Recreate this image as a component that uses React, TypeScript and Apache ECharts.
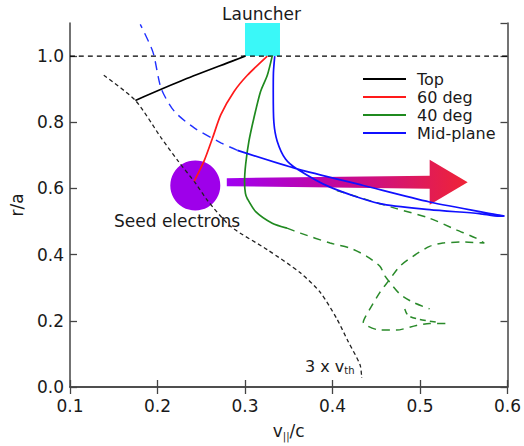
import React, { useEffect, useRef } from "react";
import * as echarts from "echarts";

// ---- data (x = v||/c, y = r/a) ----
const topLine = [[0.1747, 0.866], [0.2307, 0.929], [0.2875, 0.987], [0.3, 1.0]];
const deg60Line = [[0.3255, 1.0], [0.3027, 0.942], [0.2875, 0.893], [0.2724, 0.823], [0.263, 0.753], [0.2534, 0.684], [0.242, 0.622]];
const deg40Line = [[0.3311, 1.0], [0.3255, 0.942], [0.3178, 0.893], [0.3102, 0.813], [0.3045, 0.743], [0.3008, 0.674], [0.2995, 0.62], [0.3005, 0.585], [0.3027, 0.569], [0.3122, 0.53], [0.3311, 0.495], [0.348, 0.48]];
const midPlaneLine = [[0.334, 1.0], [0.3325, 0.95], [0.3323, 0.893], [0.333, 0.8], [0.3368, 0.743], [0.3463, 0.689], [0.3595, 0.659], [0.3973, 0.604], [0.4542, 0.554], [0.511, 0.536], [0.5678, 0.524], [0.5905, 0.516], [0.5962, 0.517], [0.5868, 0.521], [0.511, 0.559], [0.4352, 0.609], [0.3595, 0.659], [0.2914, 0.715]];
const midPlaneDashed = [[0.2914, 0.715], [0.2724, 0.738], [0.242, 0.783], [0.2193, 0.833], [0.2042, 0.902], [0.1948, 1.012], [0.1803, 1.096]];
const thermalLine = [[0.1386, 0.942], [0.1747, 0.866], [0.2042, 0.753], [0.2232, 0.684], [0.244, 0.614], [0.257, 0.564], [0.2837, 0.485], [0.3255, 0.415], [0.3633, 0.345], [0.386, 0.286], [0.405, 0.206], [0.418, 0.137], [0.4315, 0.067], [0.4334, 0.027]];
const edgeLine = [[0.1, 1.0], [0.6, 1.0]];
const green40DashedA = [[0.348, 0.48], [0.3633, 0.465], [0.3973, 0.435], [0.42, 0.42], [0.4391, 0.395], [0.4542, 0.365], [0.4599, 0.336], [0.4656, 0.316], [0.477, 0.281], [0.492, 0.256], [0.511, 0.236]];
const green40DashedB = [[0.405, 0.594], [0.4352, 0.569], [0.4732, 0.539], [0.511, 0.51], [0.5414, 0.475], [0.5641, 0.45], [0.5735, 0.435], [0.5489, 0.438], [0.5261, 0.435], [0.511, 0.425], [0.492, 0.395], [0.477, 0.365], [0.4656, 0.326], [0.4542, 0.286], [0.4428, 0.236], [0.4352, 0.196], [0.4542, 0.172], [0.4732, 0.172], [0.4959, 0.186], [0.511, 0.192], [0.5337, 0.192]];
const green40DashedC = [[0.4826, 0.236], [0.4864, 0.216], [0.4997, 0.204], [0.5186, 0.196]];
const seedCenter = [[0.2432, 0.609]];
const launcherBox = [[0.3, 1.0, 0.34, 1.1]];
const arrowSpan = [[0.2792, 0.619, 0.5545]];
const seedLabelPos = [[0.2224, 0.503]];
const vthLabelPos = [[0.368, 0.062]];
const xTickLabels = ["0.1", "0.2", "0.3", "0.4", "0.5", "0.6"];
const yTickLabels = ["0.0", "0.2", "0.4", "0.6", "0.8", "1.0"];
const legendNames = ["Top", "60 deg", "40 deg", "Mid-plane"];

const FONT = "DejaVu Sans";
const AXIS_COLOR = "#444";
const TEXT_COLOR = "#1a1a1a";

export default function App() {
  const ref = useRef<HTMLDivElement>(null);

  useEffect(() => {
    document.body.style.margin = "0";
    if (!ref.current) return;
    const chart = echarts.init(ref.current, undefined, { renderer: "svg" });

    const axisCommon = {
      type: "value" as const,
      axisLine: { show: true, lineStyle: { color: AXIS_COLOR, width: 1.5 } },
      axisTick: { show: true, inside: true, length: 7, lineStyle: { color: AXIS_COLOR, width: 1.3 } },
      splitLine: { show: false },
    };

    const lineSeries = (name: string, data: number[][], color: string, type: any = "solid", width = 1.6, z = 5) => ({
      name,
      type: "line",
      data,
      showSymbol: false,
      symbol: "none",
      smooth: 0.25,
      color,
      itemStyle: { color },
      lineStyle: { color, width, type },
      z,
      silent: true,
    });

    chart.setOption({
      animation: false,
      backgroundColor: "#fff",
      textStyle: { fontFamily: FONT },
      grid: { left: 68, right: 16, top: 23, bottom: 54, containLabel: false },
      legend: {
        data: legendNames,
        orient: "vertical",
        left: 358,
        top: 65,
        icon: "rect",
        itemWidth: 43,
        itemHeight: 2,
        itemGap: 0,
        textStyle: { fontSize: 16, lineHeight: 18, color: TEXT_COLOR, fontFamily: FONT, padding: [0, 0, 0, 6] },
        selectedMode: false,
      },
      graphic: [
        {
          type: "text",
          left: 222,
          top: 5,
          style: { text: "Launcher", fontSize: 17, fontFamily: FONT, fill: TEXT_COLOR },
        },
      ],
      xAxis: [
        {
          ...axisCommon,
          position: "bottom",
          min: 0.1,
          max: 0.6,
          interval: 0.1,
          axisLabel: {
            fontSize: 17,
            color: TEXT_COLOR,
            margin: 10,
            fontFamily: FONT,
            formatter: (v: number) => xTickLabels[Math.round((v - 0.1) / 0.1)] ?? "",
          },
          name: "v{sub|||}/c",
          nameLocation: "middle",
          nameGap: 34,
          nameTextStyle: {
            fontSize: 17,
            color: TEXT_COLOR,
            fontFamily: FONT,
            rich: { sub: { fontSize: 10, verticalAlign: "bottom", padding: [10, 0, 0, 0], color: TEXT_COLOR } },
          },
        },
        {
          ...axisCommon,
          position: "top",
          min: 0.1,
          max: 0.6,
          interval: 0.1,
          axisLabel: { show: false },
        },
      ],
      yAxis: [
        {
          ...axisCommon,
          position: "left",
          min: 0,
          max: 1.1,
          interval: 0.2,
          axisLabel: {
            fontSize: 17,
            color: TEXT_COLOR,
            margin: 6,
            fontFamily: FONT,
            showMaxLabel: false,
            formatter: (v: number) => (v > 1.05 ? "" : yTickLabels[Math.round(v / 0.2)] ?? ""),
          },
          name: "r/a",
          nameLocation: "middle",
          nameGap: 45,
          nameRotate: 90,
          nameTextStyle: { fontSize: 17, color: TEXT_COLOR, fontFamily: FONT },
        },
        {
          ...axisCommon,
          position: "right",
          min: 0,
          max: 1.1,
          interval: 0.2,
          axisLabel: { show: false },
        },
      ],
      series: [
        {
          name: "seed",
          type: "scatter",
          data: seedCenter,
          symbol: "circle",
          symbolSize: 50,
          itemStyle: { color: "#9e00ea", opacity: 1 },
          z: 1,
          silent: true,
        },
        {
          name: "launcher",
          type: "custom",
          data: launcherBox,
          z: 1,
          silent: true,
          renderItem: (_p: any, api: any) => {
            const a = api.coord([api.value(0), api.value(3)]);
            const b = api.coord([api.value(2), api.value(1)]);
            return {
              type: "rect",
              shape: { x: a[0], y: a[1], width: b[0] - a[0], height: b[1] - a[1] },
              style: { fill: "#3af8f8" },
            };
          },
        },
        lineSeries("edge", edgeLine, "#000", [5, 4], 1.3, 2),
        {
          name: "arrow",
          type: "custom",
          data: arrowSpan,
          z: 3,
          silent: true,
          renderItem: (_p: any, api: any) => {
            const s = api.coord([api.value(0), api.value(1)]);
            const t = api.coord([api.value(2), api.value(1)]);
            const headLen = 38;
            const headHalf = 22.5;
            const y = s[1];
            const bx = t[0] - headLen;
            return {
              type: "polygon",
              shape: {
                points: [
                  [s[0], y - 4],
                  [bx, y - 6.5],
                  [bx, y - headHalf],
                  [t[0], y],
                  [bx, y + headHalf],
                  [bx, y + 6.5],
                  [s[0], y + 4],
                ],
              },
              style: {
                fill: new echarts.graphic.LinearGradient(0, 0, 1, 0, [
                  { offset: 0, color: "#a000f2" },
                  { offset: 0.45, color: "#c2089c" },
                  { offset: 1, color: "#ef2436" },
                ]),
              },
            };
          },
        },
        lineSeries("vth", thermalLine, "#222", [4, 3], 1.3, 4),
        lineSeries("g40a", green40DashedA, "#2a8a2a", [8, 6], 1.5, 2),
        lineSeries("g40b", green40DashedB, "#2a8a2a", [8, 6], 1.5, 2),
        lineSeries("g40c", green40DashedC, "#2a8a2a", [6, 4], 1.5, 2),
        lineSeries("midDashed", midPlaneDashed, "#2030ff", [9, 6], 1.4, 4),
        lineSeries("Top", topLine, "#000", "solid", 1.7, 6),
        lineSeries("60 deg", deg60Line, "#ff1a1a", "solid", 1.7, 6),
        lineSeries("40 deg", deg40Line, "#1f8a1f", "solid", 1.7, 6),
        lineSeries("Mid-plane", midPlaneLine, "#1010ff", "solid", 1.7, 7),
        {
          name: "seedLabel",
          type: "scatter",
          data: seedLabelPos,
          symbolSize: 1,
          itemStyle: { color: "transparent" },
          z: 8,
          silent: true,
          label: {
            show: true,
            position: "inside",
            formatter: "Seed electrons",
            fontSize: 17,
            fontFamily: FONT,
            color: TEXT_COLOR,
            textBorderWidth: 0,
            opacity: 1,
          },
        },
        {
          name: "vthLabel",
          type: "scatter",
          data: vthLabelPos,
          symbolSize: 1,
          itemStyle: { color: "transparent" },
          z: 8,
          silent: true,
          label: {
            show: true,
            position: "right",
            distance: 0,
            formatter: "3 x v{sub|th}",
            fontSize: 16,
            fontFamily: FONT,
            color: TEXT_COLOR,
            textBorderWidth: 0,
            opacity: 1,
            rich: { sub: { fontSize: 10, fontFamily: FONT, color: TEXT_COLOR, verticalAlign: "bottom", padding: [8, 0, 0, 0] } },
          },
        },
      ],
    });

    return () => chart.dispose();
  }, []);

  return <div ref={ref} style={{ width: 524, height: 446, position: "absolute", left: 0, top: 0 }} />;
}
